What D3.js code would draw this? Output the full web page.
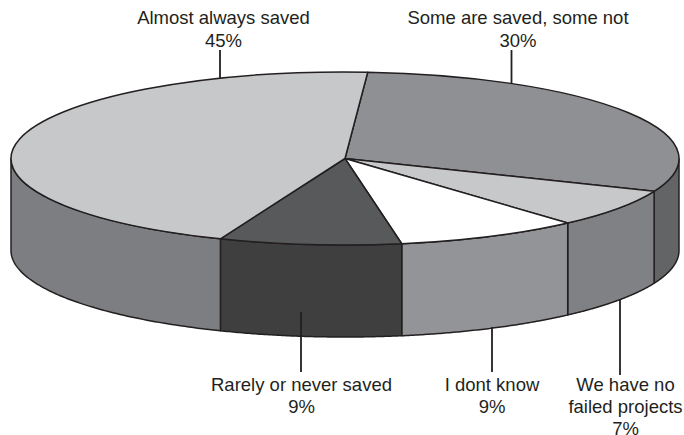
<!DOCTYPE html>
<html>
<head>
<meta charset="utf-8">
<script src="https://cdn.jsdelivr.net/npm/d3@7"></script>
<style>
    html, body { margin: 0; padding: 0; background: #fff; overflow: hidden; }
    text { font-family: "Liberation Sans", Arial, sans-serif; font-size: 18.5px; fill: #231f20; }
</style>
</head>
<body>
<svg id="chart" width="684" height="435"></svg>
<script>
// data, clockwise from the top
// shares are measured from the slice edges, they round to the printed percents
const categories = ["Some are saved, some not", "We have no failed projects", "I dont know", "Rarely or never saved", "Almost always saved"];
const shares = [30.1, 7.2, 8.9, 8.8, 45];
const labelLines = [
    ["Some are saved, some not", "30%"],
    ["We have no", "failed projects", "7%"],
    ["I dont know", "9%"],
    ["Rarely or never saved", "9%"],
    ["Almost always saved", "45%"]
];

// colours per slice
const topColors = ["#8f9094", "#c7c8ca", "#ffffff", "#58595b", "#c7c8ca"];
const sideColors = ["#636466", "#808184", "#929497", "#3f3f40", "#7d7e82"];

// variables
const width = 684;
const height = 435;
const depth = 92;
const ink = "#231f20";
const deg = Math.PI / 180;

const svg = d3.select("#chart").attr("viewBox", [0, 0, width, height]);

// unit circle to flattened ellipse
const xScale = d3.scaleLinear().domain([-1, 1]).range([11, 679]);
const yScale = d3.scaleLinear().domain([-1, 1]).range([245, 72]);
const rx = (xScale(1) - xScale(-1)) / 2;
const ry = (yScale(-1) - yScale(1)) / 2;

const pie = d3.pie().sort(null).startAngle(3.9 * deg).endAngle(363.9 * deg);
const slices = pie(shares);

// side walls, only the front half of the ellipse shows
const wall = d3.area()
    .x(a => xScale(Math.sin(a)))
    .y0(a => yScale(Math.cos(a)))
    .y1(a => yScale(Math.cos(a)) + depth);

const walls = svg.append("g");
slices.forEach((d, i) => {
    const from = Math.max(d.startAngle, 90 * deg);
    const to = Math.min(d.endAngle, 270 * deg);
    if (to <= from) return;
    const angles = d3.range(0, 81).map(k => from + (to - from) * k / 80);
    walls.append("path")
        .attr("d", wall(angles))
        .attr("fill", sideColors[i])
        .attr("stroke", ink)
        .attr("stroke-width", 1.5)
        .attr("stroke-linejoin", "round");
});

// top face
const arc = d3.arc().innerRadius(0).outerRadius(rx);
svg.append("g")
    .attr("transform", `translate(${xScale(0)},${yScale(0)}) scale(1,${ry / rx})`)
    .selectAll("path")
    .data(slices)
    .enter()
    .append("path")
    .attr("d", arc)
    .attr("fill", (d, i) => topColors[i])
    .attr("stroke", ink)
    .attr("stroke-width", 1.5)
    .attr("stroke-linejoin", "round")
    .attr("vector-effect", "non-scaling-stroke");

// leader lines and labels, same order as the slices
const leaderX = [511.5, 620, 492, 301, 220];
const leaderY = [[50, 83], [299, 375], [327, 372], [312, 372], [50, 78]];
const labelX = [518, 625.5, 492, 301.5, 223.5];
const labelY = [24, 390.5, 390.5, 390.5, 24];
const lineGap = [23.3, 22, 22.6, 22.6, 23.3];

leaderX.forEach((x, i) => {
    svg.append("line")
        .attr("x1", x).attr("x2", x)
        .attr("y1", leaderY[i][0]).attr("y2", leaderY[i][1])
        .attr("stroke", ink)
        .attr("stroke-width", 1.8);
});

labelLines.forEach((lines, i) => {
    const t = svg.append("text")
        .attr("aria-label", categories[i])
        .attr("text-anchor", "middle");
    lines.forEach((s, k) => {
        t.append("tspan")
            .attr("x", labelX[i])
            .attr("y", labelY[i] + k * lineGap[i])
            .text(s);
    });
});
</script>
</body>
</html>
